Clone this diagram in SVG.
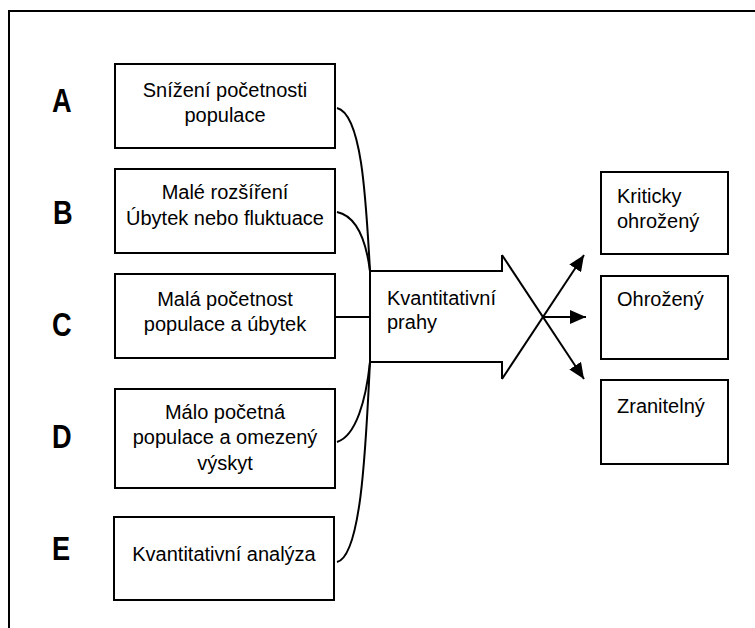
<svg xmlns="http://www.w3.org/2000/svg" width="755" height="628" viewBox="0 0 755 628">
<style>
.bx{fill:#fff;stroke:#000;stroke-width:2}
.t{font-family:"Liberation Sans",Arial,sans-serif;font-size:20px;fill:#000}
.c{text-anchor:middle}
.lt{font-family:"Liberation Sans",Arial,sans-serif;font-size:34px;font-weight:bold;fill:#000}
.ln{fill:none;stroke:#000;stroke-width:2}
</style>
<defs>
<marker id="ah" markerUnits="userSpaceOnUse" markerWidth="18" markerHeight="14" refX="16" refY="7" orient="auto">
<path d="M0,0 L16,7 L0,14 z" fill="#000"/>
</marker>
</defs>
<rect width="755" height="628" fill="#fff"/>
<path class="ln" d="M9,628 V11 H755"/>
<g id="labels">
<text class="lt" transform="translate(52,112) scale(0.8,1)">A</text>
<text class="lt" transform="translate(53,224) scale(0.8,1)">B</text>
<text class="lt" transform="translate(52,336) scale(0.8,1)">C</text>
<text class="lt" transform="translate(52,448) scale(0.8,1)">D</text>
<text class="lt" transform="translate(52,560) scale(0.8,1)">E</text>
</g>
<g id="nodeA"><rect class="bx" x="115" y="64" width="220" height="84"/>
<text class="t c" x="225" y="97">Snížení početnosti</text><text class="t c" x="225" y="122">populace</text></g>
<g id="nodeB"><rect class="bx" x="115" y="169" width="220" height="84"/>
<text class="t c" x="225" y="199">Malé rozšíření</text><text class="t c" x="225" y="225">Úbytek nebo fluktuace</text></g>
<g id="nodeC"><rect class="bx" x="115" y="274" width="220" height="84"/>
<text class="t c" x="225" y="306">Malá početnost</text><text class="t c" x="225" y="331">populace a úbytek</text></g>
<g id="nodeD"><rect class="bx" x="115" y="389" width="220" height="99"/>
<text class="t c" x="225" y="419">Málo početná</text><text class="t c" x="225" y="444">populace a omezený</text><text class="t c" x="225" y="470">výskyt</text></g>
<g id="nodeE"><rect class="bx" x="114" y="517" width="220" height="83"/>
<text class="t c" x="224" y="561">Kvantitativní analýza</text></g>
<g id="nodeK"><rect class="bx" x="601" y="172" width="127" height="82"/>
<text class="t" x="617" y="203">Kriticky</text><text class="t" x="617" y="228">ohrožený</text></g>
<g id="nodeO"><rect class="bx" x="601" y="276" width="127" height="83"/>
<text class="t" x="617" y="306">Ohrožený</text></g>
<g id="nodeZ"><rect class="bx" x="601" y="380" width="127" height="84"/>
<text class="t" x="617" y="413">Zranitelný</text></g>
<g id="connectors">
<path class="ln" d="M337,108 C362,114 366,200 370,271"/>
<path class="ln" d="M337,212 C356,216 366,240 370,271"/>
<path class="ln" d="M335,317 H370"/>
<path class="ln" d="M337,442 C356,436 366,400 370,362"/>
<path class="ln" d="M337,562 C362,556 366,440 370,362"/>
<path class="ln" d="M370,271 V362"/>
<path class="ln" d="M370,271 H502 V255"/>
<path class="ln" d="M370,362 H502 V379"/>
<path class="ln" d="M502,255 L584,379" marker-end="url(#ah)"/>
<path class="ln" d="M502,379 L584,255" marker-end="url(#ah)"/>
<path class="ln" d="M543,317 H586" marker-end="url(#ah)"/>
<text class="t" x="387" y="305">Kvantitativní</text>
<text class="t" x="387" y="329">prahy</text>
</g>
</svg>
